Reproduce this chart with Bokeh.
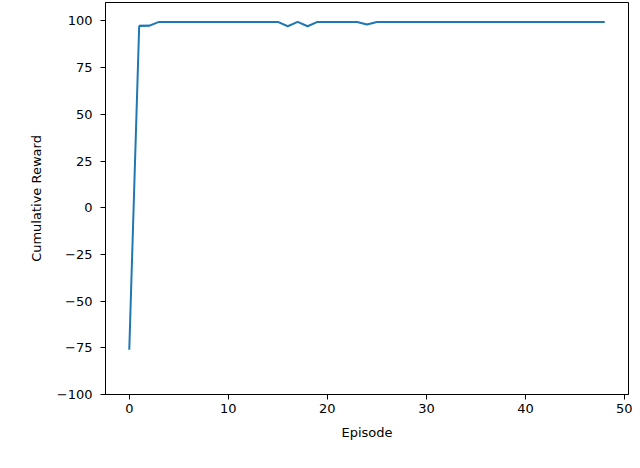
from bokeh.plotting import figure
from bokeh.models import ColumnDataSource, FixedTicker, Range1d
from bokeh.embed import file_html
from bokeh.resources import INLINE

# ---- data ----
episodes = list(range(49))
reward_mean = [-76.0, 97.3, 97.4, 99.5, 99.5, 99.5, 99.5, 99.5, 99.5, 99.5,
               99.5, 99.5, 99.5, 99.5, 99.5, 99.5, 97.2, 99.5, 97.2, 99.5,
               99.5, 99.5, 99.5, 99.5, 98.1, 99.5, 99.5, 99.5, 99.5, 99.5,
               99.5, 99.5, 99.5, 99.5, 99.5, 99.5, 99.5, 99.5, 99.5, 99.5,
               99.5, 99.5, 99.5, 99.5, 99.5, 99.5, 99.5, 99.5, 99.5]
reward_lower = [-77.5, 97.0, 97.1, 99.4, 99.4, 99.4, 99.4, 99.4, 99.4, 99.4,
                99.4, 99.4, 99.4, 99.4, 99.4, 99.4, 96.9, 99.4, 96.9, 99.4,
                99.4, 99.4, 99.4, 99.4, 97.8, 99.4, 99.4, 99.4, 99.4, 99.4,
                99.4, 99.4, 99.4, 99.4, 99.4, 99.4, 99.4, 99.4, 99.4, 99.4,
                99.4, 99.4, 99.4, 99.4, 99.4, 99.4, 99.4, 99.4, 99.4]
reward_upper = [-73.0, 98.4, 98.2, 99.6, 99.6, 99.6, 99.6, 99.6, 99.6, 99.6,
                99.6, 99.6, 99.6, 99.6, 99.6, 99.6, 97.6, 99.6, 97.6, 99.6,
                99.6, 99.6, 99.6, 99.6, 98.5, 99.6, 99.6, 99.6, 99.6, 99.6,
                99.6, 99.6, 99.6, 99.6, 99.6, 99.6, 99.6, 99.6, 99.6, 99.6,
                99.6, 99.6, 99.6, 99.6, 99.6, 99.6, 99.6, 99.6, 99.6]
x_ticks = [0, 10, 20, 30, 40, 50]
y_ticks = [-100, -75, -50, -25, 0, 25, 50, 75, 100]
y_tick_labels = {-100: "\u2212100", -75: "\u221275", -50: "\u221250", -25: "\u221225"}

source = ColumnDataSource(dict(ep=episodes, mean=reward_mean,
                               lo=reward_lower, hi=reward_upper))

FONT = "DejaVu Sans"
BLUE = "#1f77b4"

p = figure(width=632, height=452, output_backend="svg", toolbar_location=None,
           x_range=Range1d(-2.4, 50.4), y_range=Range1d(-100, 109.9),
           min_border_left=105, min_border_right=4,
           min_border_top=2, min_border_bottom=58)

p.varea(x="ep", y1="lo", y2="hi", source=source, fill_color=BLUE, fill_alpha=0.3)
p.line(x="ep", y="mean", source=source, line_color=BLUE, line_width=2)

p.background_fill_color = "white"
p.border_fill_color = "white"
p.outline_line_color = "black"
p.outline_line_width = 1
p.grid.visible = False

p.xaxis.ticker = FixedTicker(ticks=x_ticks)
p.yaxis.ticker = FixedTicker(ticks=y_ticks)
p.yaxis.major_label_overrides = y_tick_labels

for ax in (p.xaxis[0], p.yaxis[0]):
    ax.axis_line_color = "black"
    ax.axis_line_width = 1
    ax.major_tick_line_color = "black"
    ax.major_tick_out = 5
    ax.major_tick_in = 0
    ax.minor_tick_line_color = None
    ax.major_label_text_font = FONT
    ax.major_label_text_font_size = "13px"
    ax.major_label_text_color = "black"
    ax.axis_label_text_font = FONT
    ax.axis_label_text_font_size = "13px"
    ax.axis_label_text_font_style = "normal"
    ax.axis_label_text_color = "black"

p.xaxis.axis_label = "Episode"
p.yaxis.axis_label = "Cumulative Reward"
p.xaxis.major_label_standoff = 4
p.yaxis.major_label_standoff = 8
p.xaxis.axis_label_standoff = 9
p.yaxis.axis_label_standoff = 10

open("out.html", "w").write(file_html(p, INLINE))
